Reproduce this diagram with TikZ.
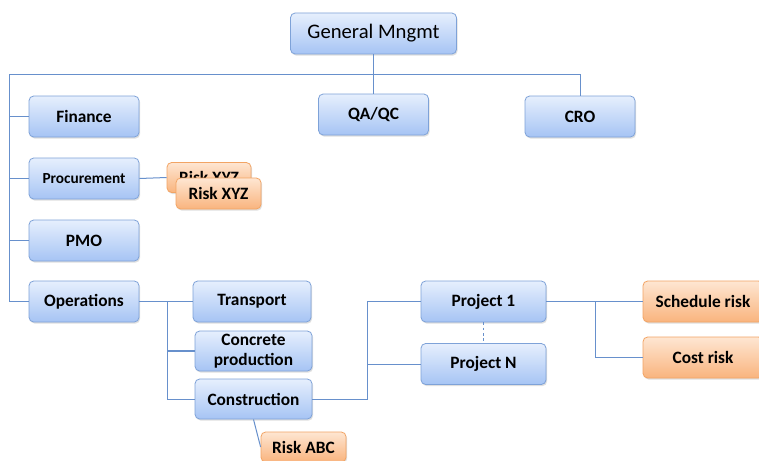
\documentclass[tikz,border=0pt]{standalone}
\usepackage{fontspec}
\setmainfont{Carlito}
\usetikzlibrary{shadows}
\definecolor{bluetop}{HTML}{E6EFFD}
\definecolor{bluebot}{HTML}{A6C4F4}
\definecolor{blueline}{HTML}{7EA2D8}
\definecolor{orgtop}{HTML}{FEE6D2}
\definecolor{orgbot}{HTML}{F9B47E}
\definecolor{orgline}{HTML}{F2A464}
\definecolor{conncol}{HTML}{6790CC}
\tikzset{
  boxbase/.style={rounded corners=3.5pt, inner sep=0pt, align=center,
    font=\fontsize{13}{15}\selectfont\bfseries, line width=0.6pt,
    drop shadow={shadow xshift=0.8pt, shadow yshift=-1.2pt, opacity=0.25}},
  bluebox/.style={boxbase, draw=blueline, top color=bluetop, bottom color=bluebot},
  orangebox/.style={boxbase, draw=orgline, top color=orgtop, bottom color=orgbot},
  conn/.style={draw=conncol, line width=0.75pt},
}
\begin{document}
\begin{tikzpicture}[x=0.75pt,y=-0.75pt]
\useasboundingbox (0,0) rectangle (759,460);
\clip (0,0) rectangle (759,460);
\fill[white] (0,0) rectangle (759,460);

% connectors' anchor points
\coordinate (bus) at (9,74);
\coordinate (opsbus) at (167,301.5);
\coordinate (pbus) at (367,301.5);
\coordinate (rbus) at (595,301.5);

% nodes
\node[bluebox, minimum width=124.5pt, minimum height=30.75pt, font=\fontsize{15.5}{18}\selectfont] (GM) at (373.5,33.5) {General Mngmt};
\node[bluebox, minimum width=82.5pt, minimum height=30.75pt] (QA) at (373.5,114.5) {QA/QC};
\node[bluebox, minimum width=82.5pt, minimum height=30.75pt] (CRO) at (580,116.5) {CRO};
\node[bluebox, minimum width=82.5pt, minimum height=30.75pt] (Fin) at (84,116.5) {Finance};
\node[bluebox, minimum width=82.5pt, minimum height=30.75pt, font=\fontsize{11.5}{14}\selectfont\bfseries] (Proc) at (84,178.5) {Procurement};
\node[bluebox, minimum width=82.5pt, minimum height=30.75pt] (PMO) at (84,240.5) {PMO};
\node[bluebox, minimum width=82.5pt, minimum height=30.75pt] (Ops) at (84,301.5) {Operations};

\node[orangebox, minimum width=63pt, minimum height=22.5pt] (RiskB) at (209,177.5) {Risk XYZ};
\node[orangebox, minimum width=63.75pt, minimum height=23.25pt] (RiskF) at (218.5,193.5) {Risk XYZ};

\node[bluebox, minimum width=88.5pt, minimum height=30.75pt] (Trans) at (252,301.5) {Transport};
\node[bluebox, minimum width=87.75pt, minimum height=30pt] (Conc) at (253.5,351) {Concrete\\production};
\node[bluebox, minimum width=87.75pt, minimum height=30pt] (Cons) at (253.5,399) {Construction};
\node[orangebox, minimum width=63.75pt, minimum height=22.5pt] (RiskA) at (303.5,447) {Risk ABC};

\node[bluebox, minimum width=93.75pt, minimum height=30.75pt] (P1) at (483.5,301.5) {Project 1};
\node[bluebox, minimum width=93.75pt, minimum height=30.75pt] (PN) at (483.5,364) {Project N};

\node[orangebox, minimum width=90pt, minimum height=30.75pt] (Sched) at (703,301.5) {Schedule risk};
\node[orangebox, minimum width=90pt, minimum height=30.75pt] (Cost) at (703,357.5) {Cost risk};

% connectors
\draw[conn] (GM.south) -- (QA.north);
\draw[conn] (bus) -| (CRO.north);
\draw[conn] (bus) |- (Ops.west);
\draw[conn] (bus |- Fin.west) -- (Fin.west);
\draw[conn] (bus |- Proc.west) -- (Proc.west);
\draw[conn] (bus |- PMO.west) -- (PMO.west);
\draw[conn] (Proc.east) -- (RiskB.west);
\draw[conn] (Ops.east) -- (Trans.west);
\draw[conn] (opsbus) |- (Cons.west);
\draw[conn, line width=1.4pt] (opsbus |- Conc.west) -- (Conc.west);
\draw[conn] (Cons.south) -- (RiskA.west);
\draw[conn] (Cons.east) -| (pbus) -- (P1.west);
\draw[conn] (pbus |- PN.west) -- (PN.west);
\draw[conn, dash pattern=on 2pt off 2pt] (P1.south) -- (PN.north);
\draw[conn] (P1.east) -- (Sched.west);
\draw[conn] (rbus) |- (Cost.west);
\end{tikzpicture}
\end{document}
